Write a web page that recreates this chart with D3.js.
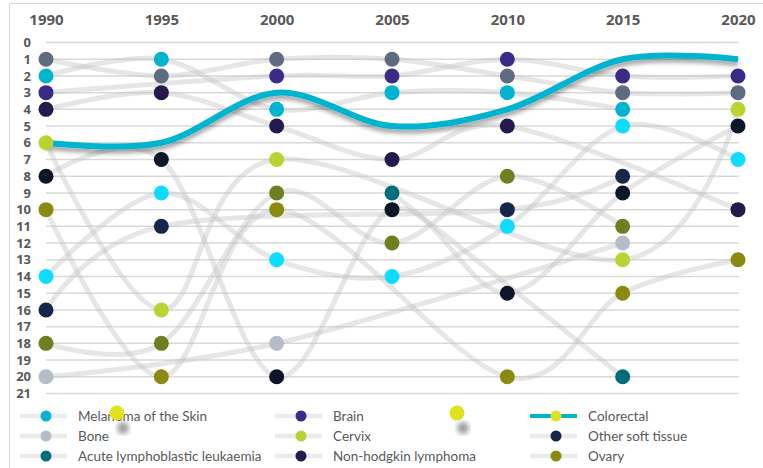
<!DOCTYPE html>
<html><head><meta charset="utf-8">
<script src="https://cdn.jsdelivr.net/npm/d3@7"></script>
<style>body{margin:0;background:#fff}svg{display:block}</style>
</head><body>
<svg id="c" width="763" height="468"></svg>
<script>
const years = [1990, 1995, 2000, 2005, 2010, 2015, 2020];
const rankTicks = d3.range(0, 22);

const seriesNames = ["Melanoma of the Skin", "Brain", "Colorectal", "Bone", "Cervix",
  "Other soft tissue", "Acute lymphoblastic leukaemia", "Non-hodgkin lymphoma", "Ovary",
  "Other A", "Other B", "Other C", "Other D"];
const seriesColors = ["#00b4d0", "#3b2a88", "#dfe21e", "#b6bdc8", "#b9d432",
  "#142749", "#006d7b", "#241a4e", "#8b8a10",
  "#5f6b7e", "#0d1529", "#0ddcff", "#6f7f1f"];

const melanoma   = [2, 1, 4, 3, 3, 4, null];
const brain      = [3, null, 2, 2, 1, 2, 2];
const colorectal = [6, 6, 3, 5, 4, 1, 1];
const bone       = [20, null, 18, null, null, 12, null];
const cervix     = [6, 16, 7, null, null, 13, 4];
const otherSoft  = [16, 11, null, null, 10, 8, null];
const allLeuk    = [null, null, null, 9, null, 20, null];
const nhl        = [4, 3, 5, 7, 5, null, 10];
const ovary      = [10, 20, 10, null, 20, 15, 13];
const otherA     = [1, 2, 1, 1, 2, 3, 3];
const otherB     = [8, 7, 20, 10, 15, 9, 5];
const otherC     = [14, 9, 13, 14, 11, 5, 7];
const otherD     = [18, 18, 9, 12, 8, 11, null];

const seriesValues = [melanoma, brain, colorectal, bone, cervix, otherSoft, allLeuk, nhl, ovary,
  otherA, otherB, otherC, otherD];
const legendCount = 9;
const highlight = "Colorectal";

const series = seriesNames.map((n, i) => ({
  name: n, color: seriesColors[i],
  pts: years.map((yr, j) => ({year: yr, rank: seriesValues[i][j]})).filter(p => p.rank != null)
}));

const svg = d3.select("#c");
const x = d3.scalePoint().domain(years).range([46, 738]);
const y = d3.scaleLinear().domain([0, 21]).range([42.5, 393.5]);

const defs = svg.append("defs");
const f = defs.append("filter").attr("id", "sh").attr("x", "-10%").attr("y", "-50%").attr("width", "120%").attr("height", "200%");
f.append("feDropShadow").attr("dx", 0).attr("dy", 4).attr("stdDeviation", 2.2)
  .attr("flood-color", "#000").attr("flood-opacity", 0.35);
const fb = defs.append("filter").attr("id", "blur");
fb.append("feGaussianBlur").attr("stdDeviation", 2.5);

// frame
svg.append("path").attr("d", "M9.5,475V3.5H770").attr("fill", "none").attr("stroke", "#d9d9d9").attr("stroke-width", 1);

// gridlines
svg.append("g").selectAll("line").data(rankTicks).join("line")
  .attr("x1", x(years[0])).attr("x2", x(years[years.length - 1]) + 1)
  .attr("y1", d => y(d)).attr("y2", d => y(d))
  .attr("stroke", "#d9d9d9").attr("stroke-width", 1.5);

// axes
const xa = svg.append("g").attr("transform", "translate(0,25)")
  .call(d3.axisTop(x).tickSize(0).tickPadding(0).tickFormat(d3.format("d")));
xa.select(".domain").remove();
xa.selectAll("text").attr("font-family", "'Open Sans', sans-serif").attr("font-weight", "bold")
  .attr("font-size", 15).attr("fill", "#595959");

const ya = svg.append("g").attr("transform", "translate(31,0)")
  .call(d3.axisLeft(y).tickValues(rankTicks).tickSize(0).tickPadding(0));
ya.select(".domain").remove();
ya.selectAll("text").attr("font-family", "'Open Sans', sans-serif").attr("font-weight", "bold")
  .attr("font-size", 13).attr("fill", "#595959");

const line = d3.line().x(d => x(d.year)).y(d => y(d.rank)).curve(d3.curveCardinal.tension(0));

// gray lines
svg.append("g").selectAll("path").data(series.filter(s => s.name !== highlight)).join("path")
  .attr("d", s => line(s.pts)).attr("fill", "none")
  .attr("stroke", "#c4c4c4").attr("stroke-opacity", 0.42).attr("stroke-width", 5).attr("stroke-linecap", "round");

// highlight line
const hs = series.find(s => s.name === highlight);
svg.append("path").attr("d", line(hs.pts)).attr("fill", "none")
  .attr("stroke", "#00b4d0").attr("stroke-width", 6).attr("filter", "url(#sh)");

// dots
svg.append("g").selectAll("g").data(series.filter(s => s.name !== highlight)).join("g")
  .attr("fill", s => s.color)
  .selectAll("circle").data(s => s.pts).join("circle")
  .attr("cx", d => x(d.year)).attr("cy", d => y(d.rank)).attr("r", 7.5);

// legend
const colX = [46, 301, 556];
const rowY = [416, 436, 456];
const lg = svg.append("g").selectAll("g").data(series.slice(0, legendCount)).join("g")
  .attr("transform", (s, i) => `translate(${colX[i % 3]},${rowY[Math.floor(i / 3)]})`);
lg.append("line").attr("x1", -26).attr("x2", 21)
  .attr("stroke", s => s.name === highlight ? "#00b4d0" : "#ebebeb")
  .attr("stroke-width", s => s.name === highlight ? 4 : 4.5);
lg.append("circle").attr("r", 5.5).attr("fill", s => s.color);
lg.append("text").attr("x", 32).attr("y", 4.5).text(s => s.name)
  .attr("font-family", "Lato, sans-serif").attr("font-size", 13.5).attr("fill", "#595959");

// stray legend markers with shadow (as in reference)
const stray = [[117, 413], [457, 413]];
svg.append("g").selectAll("circle.s").data(stray).join("circle")
  .attr("cx", d => d[0] + 6).attr("cy", d => d[1] + 15).attr("r", 6)
  .attr("fill", "#777").attr("opacity", 0.7).attr("filter", "url(#blur)");
svg.append("g").selectAll("circle").data(stray).join("circle")
  .attr("cx", d => d[0]).attr("cy", d => d[1]).attr("r", 7.5).attr("fill", "#dfe21e");
</script>
</body></html>
